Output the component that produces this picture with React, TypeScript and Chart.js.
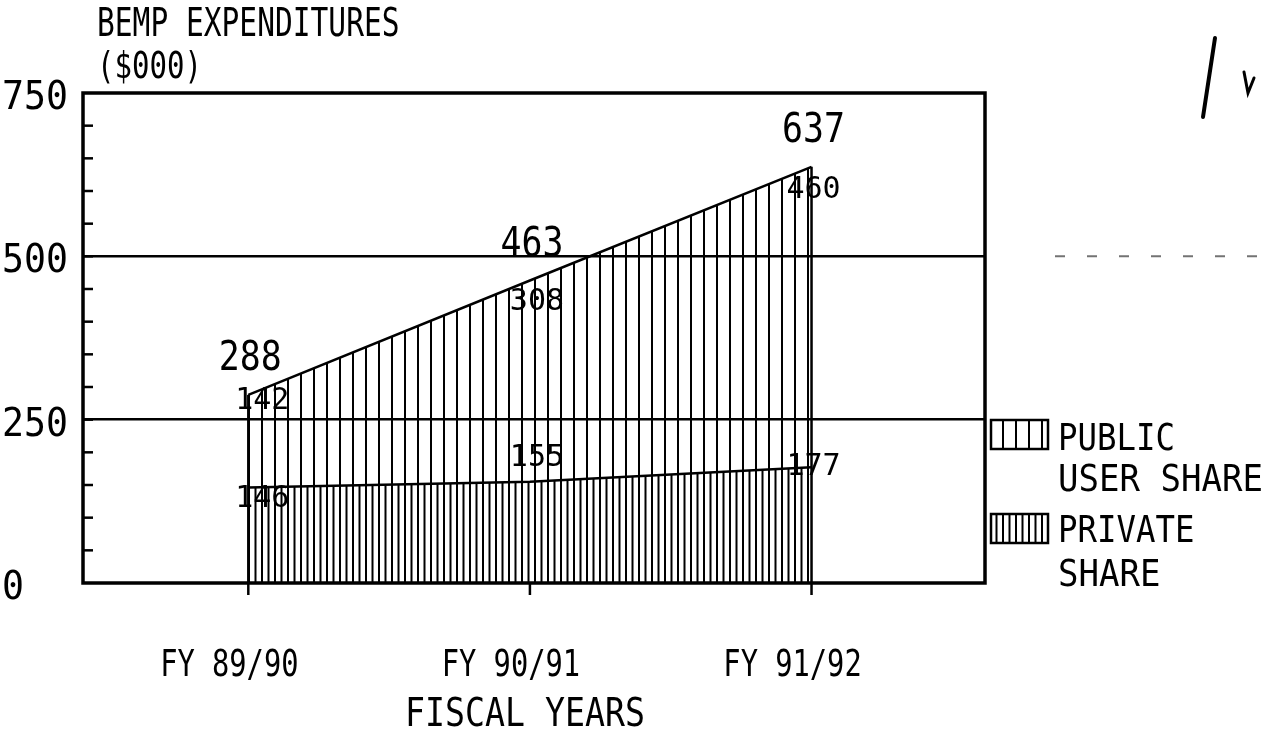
import React, { useEffect, useRef } from "react";
import { Chart, registerables } from "chart.js";

Chart.register(...registerables);

// ---- data ----
const categories = ["FY 89/90", "FY 90/91", "FY 91/92"];
const privateShare = [146, 155, 177];
const publicUserShare = [142, 308, 460];
const totals = [288, 463, 637];
const yTickValues = [0, 250, 500, 750];
const yMinorStep = 50;
const titleLines = ["BEMP EXPENDITURES", "($000)"];
const xAxisTitle = "FISCAL YEARS";
const legendPublic = ["PUBLIC", "USER SHARE"];
const legendPrivate = ["PRIVATE", "SHARE"];

// ---- label nudges (styling only) ----
const publicLabelNudge = [[14, 6], [7, 22], [2, 23]];
const privateLabelNudge = [[14, 12], [7, -24], [2, 0]];

const FONT = '"DejaVu Sans Mono", "Liberation Mono", monospace';

function drawText(
  ctx: CanvasRenderingContext2D,
  text: string,
  x: number,
  cy: number,
  cap: number,
  adv: number,
  align: CanvasTextAlign = "left"
) {
  const size = cap / 0.73;
  const sx = adv / (0.602 * size);
  ctx.save();
  ctx.font = `${size}px ${FONT}`;
  ctx.textBaseline = "alphabetic";
  ctx.textAlign = align;
  ctx.fillStyle = "#000";
  ctx.translate(x, cy + cap / 2);
  ctx.scale(sx, 1);
  ctx.fillText(text, 0, 0);
  ctx.restore();
}

function makePattern(lines: number[], width: number): CanvasPattern | string {
  const c = document.createElement("canvas");
  c.width = width;
  c.height = 4;
  const g = c.getContext("2d");
  if (!g) return "#000";
  g.clearRect(0, 0, width, 4);
  g.fillStyle = "#000";
  for (const lx of lines) g.fillRect(lx, 0, 2, 4);
  const p = g.createPattern(c, "repeat");
  return p || "#000";
}

export default function App() {
  const canvasRef = useRef<HTMLCanvasElement | null>(null);

  useEffect(() => {
    const canvas = canvasRef.current;
    if (!canvas) return;
    const publicPattern = makePattern([1], 13);
    const privatePattern = makePattern([1, 7.5], 13);

    const decor = {
      id: "decor",
      beforeDraw(chart: any) {
        const ctx = chart.ctx as CanvasRenderingContext2D;
        ctx.save();
        ctx.fillStyle = "#fff";
        ctx.fillRect(0, 0, chart.width, chart.height);
        ctx.restore();
      },
      afterDatasetsDraw(chart: any) {
        const ctx = chart.ctx as CanvasRenderingContext2D;
        const xs = chart.scales.x;
        const ys = chart.scales.y;
        const a = chart.chartArea;
        ctx.save();
        ctx.strokeStyle = "#000";
        ctx.fillStyle = "#000";

        // vertical edges of the area
        ctx.lineWidth = 2.5;
        [0, categories.length - 1].forEach((i) => {
          const px = xs.getPixelForValue(i);
          ctx.beginPath();
          ctx.moveTo(px, ys.getPixelForValue(0));
          ctx.lineTo(px, ys.getPixelForValue(totals[i]));
          ctx.stroke();
        });

        // frame
        ctx.lineWidth = 3.5;
        ctx.strokeRect(a.left, a.top, a.right - a.left, a.bottom - a.top);

        // minor ticks (inward, left axis)
        ctx.lineWidth = 2.5;
        for (let v = yMinorStep; v < yTickValues[yTickValues.length - 1]; v += yMinorStep) {
          const py = ys.getPixelForValue(v);
          ctx.beginPath();
          ctx.moveTo(a.left, py);
          ctx.lineTo(a.left + 10, py);
          ctx.stroke();
        }

        // x tick marks below the axis
        categories.forEach((_, i) => {
          const px = xs.getPixelForValue(i);
          ctx.beginPath();
          ctx.moveTo(px, a.bottom);
          ctx.lineTo(px, a.bottom + 12);
          ctx.stroke();
        });

        // faint extension of the 500 line
        ctx.save();
        ctx.lineWidth = 2;
        ctx.strokeStyle = "rgba(0,0,0,0.55)";
        ctx.setLineDash([10, 22]);
        ctx.beginPath();
        const y500 = ys.getPixelForValue(500);
        ctx.moveTo(a.right + 70, y500);
        ctx.lineTo(chart.width, y500);
        ctx.stroke();
        ctx.restore();

        // y tick labels
        yTickValues.forEach((v) => {
          drawText(ctx, String(v), 2, ys.getPixelForValue(v) + 2, 28, 22, "left");
        });

        // x tick labels
        categories.forEach((c, i) => {
          drawText(ctx, c, xs.getPixelForValue(i) - 19, a.bottom + 79, 27, 17.3, "center");
        });

        // axis title
        drawText(ctx, xAxisTitle, (a.left + a.right) / 2 - 9, a.bottom + 128, 29, 20, "center");

        // chart title
        drawText(ctx, titleLines[0], 97, 22, 28, 17.8, "left");
        drawText(ctx, titleLines[1], 97, 64, 27, 17.5, "left");

        // total labels
        totals.forEach((t, i) => {
          drawText(ctx, String(t), xs.getPixelForValue(i) + 2, ys.getPixelForValue(t) - 40, 30, 21, "center");
        });

        // segment labels
        ctx.save();
        ctx.font = `30px ${FONT}`;
        ctx.textAlign = "center";
        ctx.textBaseline = "middle";
        publicUserShare.forEach((v, i) => {
          const [dx, dy] = publicLabelNudge[i];
          ctx.fillText(String(v), xs.getPixelForValue(i) + dx, ys.getPixelForValue(totals[i]) + dy);
        });
        privateShare.forEach((v, i) => {
          const [dx, dy] = privateLabelNudge[i];
          ctx.fillText(String(v), xs.getPixelForValue(i) + dx, ys.getPixelForValue(v) + dy);
        });
        ctx.restore();

        // legend
        const lx = a.right + 6;
        const drawSwatch = (top: number, pat: CanvasPattern | string) => {
          ctx.save();
          ctx.fillStyle = pat as any;
          ctx.fillRect(lx, top, 57, 29);
          ctx.lineWidth = 2.5;
          ctx.strokeStyle = "#000";
          ctx.strokeRect(lx, top, 57, 29);
          ctx.restore();
        };
        drawSwatch(420, publicPattern);
        drawText(ctx, legendPublic[0], lx + 67, 436, 27, 19.5, "left");
        drawText(ctx, legendPublic[1], lx + 67, 477, 27, 20.5, "left");
        drawSwatch(514, privatePattern);
        drawText(ctx, legendPrivate[0], lx + 67, 528, 27, 19.5, "left");
        drawText(ctx, legendPrivate[1], lx + 67, 572, 27, 20.5, "left");

        // handwritten mark at top right
        ctx.lineWidth = 4;
        ctx.lineCap = "round";
        ctx.beginPath();
        ctx.moveTo(1203, 117);
        ctx.lineTo(1215, 38);
        ctx.stroke();
        ctx.lineWidth = 3;
        ctx.beginPath();
        ctx.moveTo(1244, 72);
        ctx.lineTo(1248, 93);
        ctx.lineTo(1254, 78);
        ctx.stroke();
        ctx.restore();
      },
    };

    const chart = new Chart(canvas, {
      type: "line",
      data: {
        datasets: [
          {
            label: "PRIVATE SHARE",
            data: privateShare.map((v, i) => ({ x: i, y: v })),
            backgroundColor: privatePattern as any,
            borderColor: "#000",
            borderWidth: 2.5,
            pointRadius: 0,
            tension: 0,
            fill: "origin",
          },
          {
            label: "PUBLIC USER SHARE",
            data: publicUserShare.map((v, i) => ({ x: i, y: v })),
            backgroundColor: publicPattern as any,
            borderColor: "#000",
            borderWidth: 2.5,
            pointRadius: 0,
            tension: 0,
            fill: "-1",
          },
        ],
      },
      options: {
        responsive: false,
        animation: false,
        events: [],
        layout: { padding: { top: 93, right: 278, left: 0, bottom: 0 } },
        plugins: {
          legend: { display: false },
          tooltip: { enabled: false },
          title: { display: false },
        },
        scales: {
          x: {
            type: "linear",
            min: -0.587,
            max: 2.616,
            ticks: { display: false },
            grid: { display: false },
            border: { display: false },
            afterFit: (s: any) => {
              s.height = 737 - 583;
            },
          },
          y: {
            type: "linear",
            stacked: true,
            min: 0,
            max: 750,
            ticks: { display: false, stepSize: 250 },
            grid: {
              drawTicks: false,
              lineWidth: 2.5,
              color: (c: any) =>
                c.tick && (c.tick.value === 250 || c.tick.value === 500) ? "#000" : "rgba(0,0,0,0)",
            },
            border: { display: false },
            afterFit: (s: any) => {
              s.width = 83;
            },
          },
        },
      },
      plugins: [decor],
    });
    return () => chart.destroy();
  }, []);

  return (
    <div style={{ position: "fixed", left: 0, top: 0, width: 1263, height: 737, background: "#fff" }}>
      <canvas ref={canvasRef} width={1263} height={737} style={{ display: "block" }} />
    </div>
  );
}
